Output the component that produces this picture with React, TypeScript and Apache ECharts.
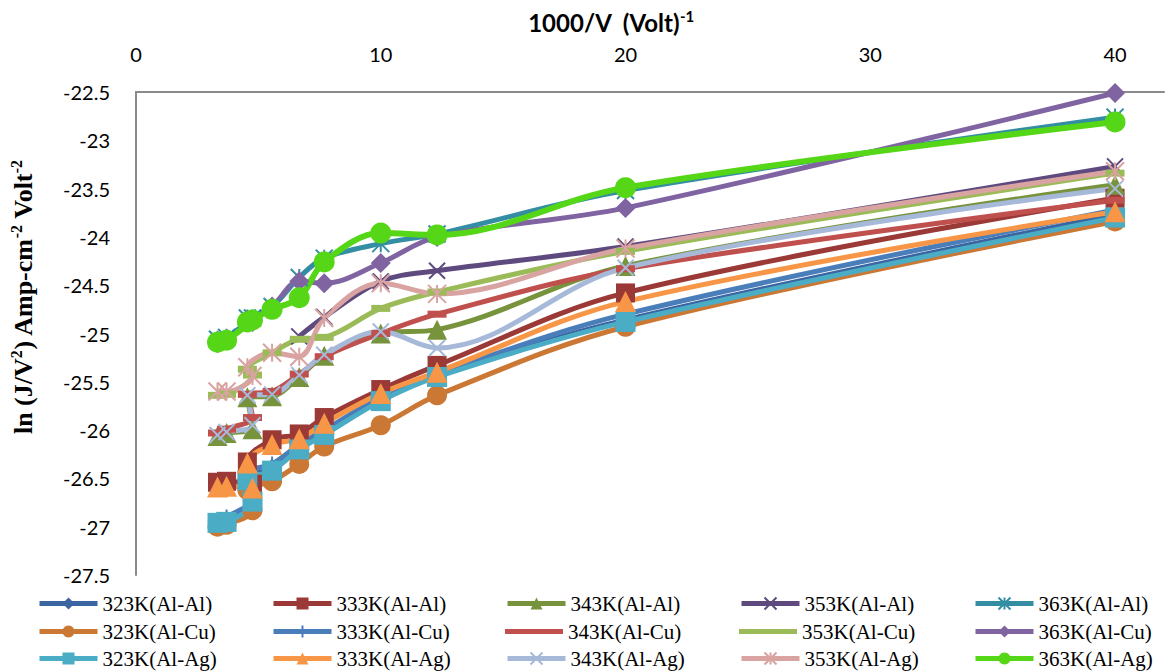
import React, { useEffect, useRef } from "react";
import * as echarts from "echarts";

// 1000/V values (order as plotted)
const xValues = [3.33, 3.7, 4.76, 4.55, 5.56, 6.67, 7.69, 10, 12.3, 20, 40];

const xTicks = [0, 10, 20, 30, 40];

// ln(J/V^2) values per series
const y323AlAl = [-26.95, -26.94, -26.73, -26.5, -26.4, -26.18, -26.03, -25.68, -25.43, -24.86, -23.77];
const y333AlAl = [-26.54, -26.53, -26.56, -26.33, -26.1, -26.04, -25.87, -25.58, -25.33, -24.58, -23.6];
const y343AlAl = [-26.06, -26.03, -25.99, -25.66, -25.65, -25.45, -25.23, -25.0, -24.96, -24.3, -23.46];
const y353AlAl = [null, null, null, null, null, -25.03, -24.83, -24.46, -24.35, -24.1, -23.27];
const y363AlAl = [-25.06, -25.04, -24.84, -24.84, -24.72, -24.42, -24.22, -24.07, -23.97, -23.52, -22.76];

const y323AlCu = [-27.0, -26.98, -26.83, -26.62, -26.53, -26.35, -26.17, -25.95, -25.64, -24.93, -23.84];
const y333AlCu = [-26.93, -26.9, -26.7, -26.45, -26.35, -26.15, -26.0, -25.66, -25.42, -24.8, -23.72];
const y343AlCu = [-26.03, -25.99, -25.87, -25.63, -25.6, -25.42, -25.24, -25.0, -24.8, -24.33, -23.62];
const y353AlCu = [-25.64, -25.63, -25.43, -25.37, -25.2, -25.06, -25.04, -24.74, -24.57, -24.15, -23.34];
const y363AlCu = [-25.1, -25.06, -24.88, -24.88, -24.72, -24.46, -24.48, -24.27, -24.0, -23.7, -22.51];

const y323AlAg = [-26.96, -26.95, -26.74, -26.52, -26.42, -26.2, -26.05, -25.7, -25.45, -24.88, -23.8];
const y333AlAg = [-26.59, -26.58, -26.6, -26.34, -26.15, -26.09, -25.93, -25.62, -25.4, -24.67, -23.74];
const y343AlAg = [-26.05, -26.02, -25.95, -25.64, -25.63, -25.43, -25.22, -24.98, -25.15, -24.32, -23.5];
const y353AlAg = [-25.6, -25.6, -25.44, -25.35, -25.2, -25.24, -24.84, -24.48, -24.59, -24.12, -23.32];
const y363AlAg = [-25.09, -25.07, -24.86, -24.88, -24.75, -24.63, -24.26, -23.96, -23.98, -23.49, -22.81];

const seriesNames = [
  "323K(Al-Al)", "333K(Al-Al)", "343K(Al-Al)", "353K(Al-Al)", "363K(Al-Al)",
  "323K(Al-Cu)", "333K(Al-Cu)", "343K(Al-Cu)", "353K(Al-Cu)", "363K(Al-Cu)",
  "323K(Al-Ag)", "333K(Al-Ag)", "343K(Al-Ag)", "353K(Al-Ag)", "363K(Al-Ag)",
];

const seriesValues = [
  y323AlAl, y333AlAl, y343AlAl, y353AlAl, y363AlAl,
  y323AlCu, y333AlCu, y343AlCu, y353AlCu, y363AlCu,
  y323AlAg, y333AlAg, y343AlAg, y353AlAg, y363AlAg,
];

const seriesColors = [
  "#3B65A0", "#9A3936", "#77933C", "#5E4A7E", "#338EA3",
  "#CB7834", "#4A7EBB", "#C0504D", "#9BBB59", "#8064A2",
  "#4BACC6", "#F79646", "#A7B9D9", "#D9A3A1", "#55D616",
];

const X_PATH = "path://M0,0L10,10M10,0L0,10";
const STAR_PATH = "path://M5,0L5,10M0,0L10,10M10,0L0,10";
const PLUS_PATH = "path://M5,0L5,10M0,5L10,5";
const BAR_ICON = "path://M0,0L60,0L60,5L0,5Z";

const seriesSymbols: any[] = [
  "diamond", "rect", "triangle", X_PATH, STAR_PATH,
  "circle", PLUS_PATH, "rect", "rect", "diamond",
  "rect", "triangle", X_PATH, STAR_PATH, "circle",
];

const seriesSymbolSizes: any[] = [
  20, 19, 20, 16, 17,
  20, 15, [19, 7], [19, 7], 20,
  20, 21, 16, 18, 21,
];

const dashSeries = [7, 8];

const legendLefts = [37, 271, 505, 739, 973];
const legendRowCenters = [603, 631, 658];

export default function App() {
  const ref = useRef<HTMLDivElement>(null);

  useEffect(() => {
    if (!ref.current) return;
    const chart = echarts.init(ref.current, undefined, { renderer: "svg" });

    const series = seriesNames.map((name, i) => {
      const isPath = typeof seriesSymbols[i] === "string" && seriesSymbols[i].startsWith("path://");
      const data = xValues
        .map((x, j) => [x, seriesValues[i][j]])
        .filter((p) => p[1] !== null && p[1] !== undefined);
      return {
        type: "line",
        name,
        data,
        smooth: 0.35,
        symbol: seriesSymbols[i],
        symbolSize: seriesSymbolSizes[i],
        showAllSymbol: true,
        lineStyle: { color: seriesColors[i], width: i === 14 ? 6 : 5 },
        itemStyle: isPath
          ? { color: seriesColors[i], borderColor: seriesColors[i], borderWidth: 2 }
          : { color: seriesColors[i] },
        emphasis: { disabled: true },
      };
    });

    const legends = seriesNames.map((name, k) => {
      const col = k % 5;
      const row = Math.floor(k / 5);
      return {
        orient: "horizontal",
        left: legendLefts[col],
        top: legendRowCenters[row] - 10,
        padding: 0,
        itemWidth: 58,
        itemHeight: 15,
        selectedMode: false,
        lineStyle: { width: 5 },
        data: [dashSeries.indexOf(k) >= 0 ? { name, icon: BAR_ICON } : { name }],
        textStyle: {
          fontFamily: "Liberation Serif",
          fontSize: 21,
          color: "#000",
          lineHeight: 20,
        },
      };
    });

    const option: any = {
      animation: false,
      backgroundColor: "#ffffff",
      grid: { left: 136, top: 92, width: 1028, height: 483 },
      xAxis: {
        type: "value",
        position: "top",
        min: 0,
        max: 42,
        interval: 10,
        axisLine: { show: true, onZero: false, lineStyle: { color: "#8a8a8a", width: 2 } },
        axisTick: { show: false },
        splitLine: { show: false },
        axisLabel: {
          margin: 28,
          fontSize: 20,
          fontFamily: "Lato",
          color: "#000",
          formatter: (v: number) => (xTicks.indexOf(v) >= 0 ? String(v) : ""),
        },
      },
      yAxis: {
        type: "value",
        min: -27.5,
        max: -22.5,
        interval: 0.5,
        axisLine: { show: true, onZero: false, lineStyle: { color: "#8a8a8a", width: 2 } },
        axisTick: { show: false },
        splitLine: { show: false },
        axisLabel: {
          margin: 26,
          fontSize: 20,
          fontFamily: "Lato",
          color: "#000",
        },
      },
      legend: legends,
      graphic: [
        {
          type: "text",
          x: 611,
          y: 22,
          style: {
            text: "{b|1000/V  (Volt)}{s|-1}",
            align: "center",
            verticalAlign: "middle",
            rich: {
              b: { fontFamily: "Lato", fontWeight: "bold", fontSize: 24, lineHeight: 28, fill: "#000" },
              s: { fontFamily: "Lato", fontWeight: "bold", fontSize: 15, lineHeight: 15, verticalAlign: "top", fill: "#000" },
            },
          },
        },
        {
          type: "text",
          x: 23,
          y: 297,
          rotation: Math.PI / 2,
          style: {
            text: "{b|ln (J/V}{s|2}{b|) Amp-cm}{s|-2}{b| Volt}{s|-2}",
            align: "center",
            verticalAlign: "middle",
            rich: {
              b: { fontFamily: "Liberation Serif", fontWeight: "bold", fontSize: 26, lineHeight: 30, fill: "#000" },
              s: { fontFamily: "Liberation Serif", fontWeight: "bold", fontSize: 16, lineHeight: 16, verticalAlign: "top", fill: "#000" },
            },
          },
        },
      ],
      series,
    };

    chart.setOption(option);
    return () => chart.dispose();
  }, []);

  return (
    <div
      ref={ref}
      style={{ position: "fixed", left: 0, top: 0, width: 1168, height: 672, background: "#fff" }}
    />
  );
}
